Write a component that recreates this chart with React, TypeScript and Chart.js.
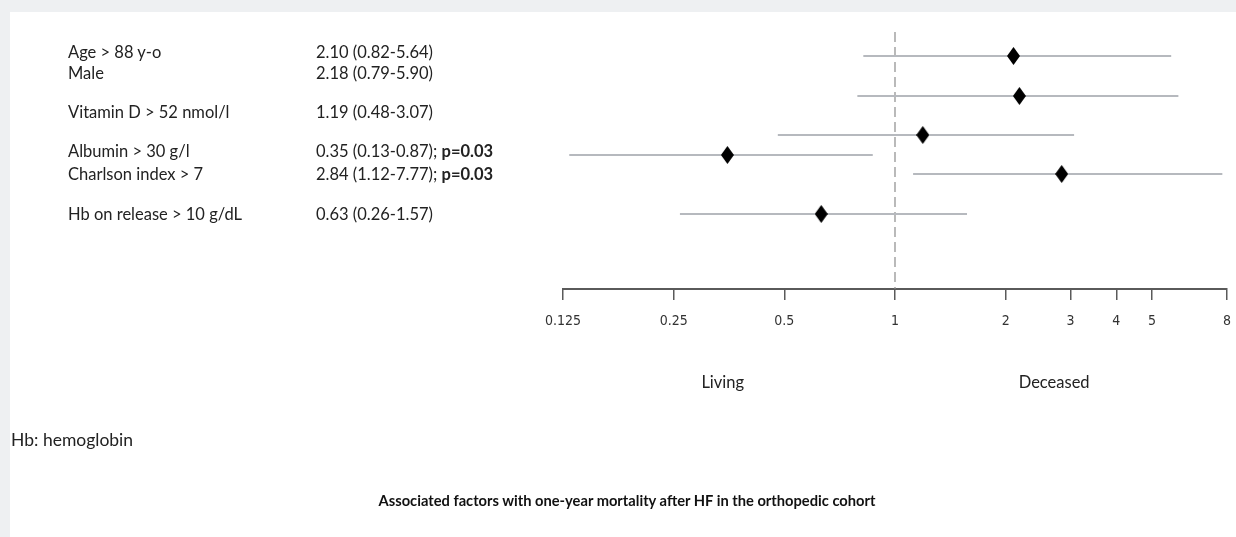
import React, { useEffect, useRef } from "react";
import { Chart, registerables } from "chart.js";

Chart.register(...registerables);

// ---- data ----
const factors = [
  "Age > 88 y-o",
  "Male",
  "Vitamin D > 52 nmol/l",
  "Albumin > 30 g/l",
  "Charlson index > 7",
  "Hb on release > 10 g/dL",
];
const oddsRatio = [2.1, 2.18, 1.19, 0.35, 2.84, 0.63];
const ciLow = [0.82, 0.79, 0.48, 0.13, 1.12, 0.26];
const ciHigh = [5.64, 5.9, 3.07, 0.87, 7.77, 1.57];
const pValues = ["", "", "", "0.03", "0.03", ""];
// vertical row position in the plot (row units, top = 0)
const rowPos = [1.2, 3.2, 5.15, 6.15, 7.1, 9.1];
// vertical text row positions for the table on the left (same units)
const textRowPos = [1.0, 2.05, 4.0, 5.95, 7.1, 9.1];
const tickValues = [0.125, 0.25, 0.5, 1, 2, 3, 4, 5, 8];
const tickLabels = ["0.125", "0.25", "0.5", "1", "2", "3", "4", "5", "8"];
const sideLabels = ["Living", "Deceased"];
const sideLabelPos = [0.34, 2.71];
const title = "Associated factors with one-year mortality after HF in the orthopedic cohort";
const footnote = "Hb: hemoglobin";

const Y_MAX = 12.85;

function fmt(v: number) {
  return v.toFixed(2);
}

function makeDiamond() {
  const c = document.createElement("canvas");
  const w = 13;
  const h = 18;
  c.width = w;
  c.height = h;
  const ctx = c.getContext("2d")!;
  ctx.fillStyle = "#000";
  ctx.beginPath();
  ctx.moveTo(w / 2, 0);
  ctx.lineTo(w, h / 2);
  ctx.lineTo(w / 2, h);
  ctx.lineTo(0, h / 2);
  ctx.closePath();
  ctx.fill();
  return c;
}

export default function App() {
  const ref = useRef<HTMLCanvasElement | null>(null);
  const textRef = useRef<HTMLDivElement | null>(null);

  useEffect(() => {
    if (!ref.current) return;
    const diamond = makeDiamond();
    const ciSets = factors.map((f, i) => ({
      label: f,
      data: [
        { x: ciLow[i], y: rowPos[i] },
        { x: ciHigh[i], y: rowPos[i] },
      ],
      showLine: true,
      borderColor: "#b6b9be",
      borderWidth: 2.2,
      pointRadius: 0,
    }));
    const chart = new Chart(ref.current, {
      type: "scatter",
      data: {
        datasets: [
          {
            label: "OR",
            data: oddsRatio.map((v, i) => ({ x: v, y: rowPos[i] })),
            pointStyle: diamond as any,
            pointRadius: 8,
            backgroundColor: "#000",
            borderColor: "#000",
          },
          ...ciSets,
          {
            label: "ref",
            data: [
              { x: 1, y: 0 },
              { x: 1, y: Y_MAX },
            ],
            showLine: true,
            borderColor: "#8c8c8c",
            borderWidth: 1.2,
            borderDash: [10, 5],
            pointRadius: 0,
          },
        ],
      },
      options: {
        animation: false,
        responsive: false,
        maintainAspectRatio: false,
        layout: { autoPadding: false, padding: { left: 553, right: 9, top: 20, bottom: 186 } },
        plugins: { legend: { display: false }, tooltip: { enabled: false } },
        scales: {
          x: {
            type: "logarithmic",
            min: 0.125,
            max: 8,
            afterBuildTicks: (s: any) => {
              s.ticks = tickValues.map((v) => ({ value: v }));
            },
            afterFit: (s: any) => {
              s.height = 62;
              s.paddingLeft = 0;
              s.paddingRight = 0;
            },
            border: { display: true, color: "#5a5a5a", width: 2 },
            grid: {
              drawOnChartArea: false,
              drawTicks: true,
              tickLength: 11,
              color: "#5a5a5a",
              lineWidth: 1.5,
            },
            ticks: {
              autoSkip: false,
              maxRotation: 0,
              padding: 13,
              color: "#333",
              font: { family: "'Liberation Sans Narrow', 'DejaVu Sans Condensed', sans-serif", size: 14 },
              callback: (v: any) => {
                const idx = tickValues.indexOf(Number(v));
                return idx >= 0 ? tickLabels[idx] : "";
              },
            },
          },
          y: {
            type: "linear",
            display: false,
            reverse: true,
            min: 0,
            max: Y_MAX,
          },
        },
      },
    });

    // position left-hand table rows and side labels via chart scales
    const ys = chart.scales.y;
    const xs = chart.scales.x;
    const host = textRef.current;
    if (host) {
      host.querySelectorAll<HTMLElement>("[data-row]").forEach((el) => {
        const i = Number(el.dataset.row);
        el.style.top = ys.getPixelForValue(textRowPos[i]) + "px";
      });
      host.querySelectorAll<HTMLElement>("[data-side]").forEach((el) => {
        const i = Number(el.dataset.side);
        el.style.left = xs.getPixelForValue(sideLabelPos[i]) + "px";
      });
    }
    return () => chart.destroy();
  }, []);

  const font = "Lato, 'Open Sans', sans-serif";
  const rowStyle: React.CSSProperties = {
    position: "absolute",
    transform: "translateY(-50%)",
    whiteSpace: "nowrap",
    lineHeight: "1",
    fontSize: 16.5,
    color: "#222",
  };

  return (
    <div
      style={{
        position: "fixed",
        left: 0,
        top: 0,
        width: 1236,
        height: 537,
        background: "#eef0f2",
        fontFamily: font,
      }}
    >
      <div
        ref={textRef}
        style={{
          position: "absolute",
          left: 10,
          top: 12,
          width: 1226,
          height: 525,
          background: "#fff",
        }}
      >
        <canvas ref={ref} width={1226} height={525} style={{ position: "absolute", left: 0, top: 0 }} />
        {factors.map((f, i) => (
          <div key={"f" + i} data-row={i} style={{ ...rowStyle, left: 58 }}>
            {f}
          </div>
        ))}
        {factors.map((f, i) => (
          <div key={"v" + i} data-row={i} style={{ ...rowStyle, left: 306 }}>
            {fmt(oddsRatio[i])} ({fmt(ciLow[i])}-{fmt(ciHigh[i])})
            {pValues[i] ? (
              <>
                ; <b>p={pValues[i]}</b>
              </>
            ) : null}
          </div>
        ))}
        {sideLabels.map((s, i) => (
          <div
            key={"s" + i}
            data-side={i}
            style={{ ...rowStyle, top: 370, transform: "translate(-50%, -50%)", fontSize: 16.5 }}
          >
            {s}
          </div>
        ))}
        <div style={{ ...rowStyle, left: 1, top: 428, fontSize: 17.5 }}>{footnote}</div>
        <div
          style={{
            ...rowStyle,
            left: 617,
            top: 488,
            transform: "translate(-50%, -50%)",
            fontWeight: 700,
            fontSize: 14.7,
            color: "#111",
          }}
        >
          {title}
        </div>
      </div>
    </div>
  );
}
